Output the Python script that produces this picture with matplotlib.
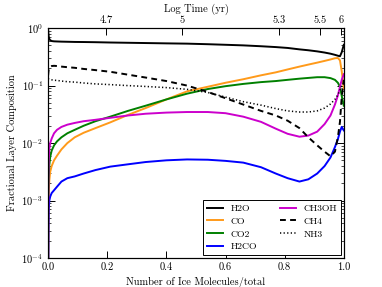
import matplotlib
matplotlib.use("Agg")
import matplotlib.pyplot as plt

plt.rcParams['font.family'] = 'cmr10'
plt.rcParams['mathtext.fontset'] = 'cm'
plt.rcParams['axes.formatter.use_mathtext'] = True
plt.rcParams['axes.unicode_minus'] = False

# fraction of ice molecules (x) and layer composition of each species
frac = [0, 0.001, 0.002, 0.004, 0.007, 0.012, 0.02, 0.03, 0.045, 0.065, 0.09,
        0.12, 0.16, 0.21, 0.27, 0.33, 0.4, 0.47, 0.54, 0.6, 0.66, 0.72, 0.77,
        0.81, 0.85, 0.88, 0.91, 0.935, 0.955, 0.97, 0.98, 0.987, 0.993, 1.0]

h2o = [0.955, 0.794, 0.708, 0.646, 0.617, 0.596, 0.589, 0.586, 0.582, 0.579,
       0.575, 0.573, 0.569, 0.562, 0.556, 0.550, 0.543, 0.537, 0.525, 0.513,
       0.501, 0.484, 0.468, 0.452, 0.427, 0.412, 0.394, 0.376, 0.359, 0.343,
       0.331, 0.324, 0.380, 0.513]
co = [3e-5, 6.31e-4, 1.41e-3, 2.24e-3, 3.16e-3, 3.98e-3, 5.01e-3, 6.03e-3,
      7.76e-3, 1.0e-2, 1.26e-2, 1.51e-2, 1.82e-2, 2.29e-2, 3.09e-2, 4.07e-2,
      5.75e-2, 7.94e-2, 9.55e-2, 0.112, 0.129, 0.151, 0.170, 0.191, 0.214,
      0.232, 0.251, 0.269, 0.285, 0.299, 0.302, 0.275, 0.178, 0.0891]
co2 = [3e-5, 1.26e-3, 2.51e-3, 4.17e-3, 5.75e-3, 7.41e-3, 9.12e-3, 1.07e-2,
       1.26e-2, 1.48e-2, 1.70e-2, 2.00e-2, 2.40e-2, 2.88e-2, 3.63e-2, 4.47e-2,
       5.75e-2, 7.24e-2, 8.71e-2, 9.77e-2, 0.107, 0.115, 0.120, 0.126, 0.132,
       0.136, 0.140, 0.140, 0.135, 0.126, 0.112, 0.0955, 0.0661, 0.0447]
h2co = [3e-5, 3.16e-4, 7.08e-4, 1.0e-3, 1.17e-3, 1.35e-3, 1.51e-3, 1.74e-3,
        2.14e-3, 2.45e-3, 2.63e-3, 2.95e-3, 3.39e-3, 3.89e-3, 4.27e-3, 4.68e-3,
        5.01e-3, 5.19e-3, 5.13e-3, 4.90e-3, 4.57e-3, 3.80e-3, 2.95e-3, 2.45e-3,
        2.14e-3, 2.34e-3, 2.95e-3, 3.98e-3, 5.62e-3, 8.51e-3, 1.17e-2, 1.58e-2,
        1.91e-2, 1.66e-2]
ch3oh = [3e-5, 2.51e-3, 5.01e-3, 7.94e-3, 1.0e-2, 1.20e-2, 1.48e-2, 1.70e-2,
         1.91e-2, 2.09e-2, 2.24e-2, 2.40e-2, 2.54e-2, 2.75e-2, 3.02e-2, 3.24e-2,
         3.39e-2, 3.47e-2, 3.47e-2, 3.31e-2, 2.88e-2, 2.34e-2, 1.78e-2, 1.45e-2,
         1.29e-2, 1.35e-2, 1.58e-2, 2.14e-2, 3.02e-2, 4.68e-2, 6.76e-2, 9.55e-2,
         0.126, 0.158]
ch4 = [0.151, 0.174, 0.191, 0.204, 0.214, 0.219, 0.221, 0.219, 0.214, 0.209,
       0.204, 0.195, 0.186, 0.174, 0.155, 0.138, 0.120, 0.100, 0.0776, 0.0603,
       0.0468, 0.0363, 0.0302, 0.0245, 0.0182, 0.0126, 0.00912, 0.00708,
       0.00589, 0.00708, 0.0126, 0.0234, 0.0631, 0.126]
nh3 = [0.132, 0.132, 0.130, 0.129, 0.127, 0.126, 0.124, 0.123, 0.120, 0.117,
       0.115, 0.111, 0.107, 0.104, 0.100, 0.0966, 0.0923, 0.0861, 0.0759,
       0.0631, 0.0525, 0.0457, 0.0398, 0.0363, 0.0347, 0.0347, 0.0363, 0.0407,
       0.0479, 0.0575, 0.0692, 0.0832, 0.100, 0.112]

# top axis: log time labels and where they fall on the ice fraction axis
time_labels = ['4.7', '5', '5.3', '5.5', '6']
time_pos = [0.197, 0.454, 0.78, 0.92, 0.99]

fig = plt.figure(figsize=(3.82, 2.87), dpi=100)
ax = fig.add_axes([0.126, 0.101, 0.774, 0.801])

lw = 1.4
ax.plot(frac, h2o, color='k', lw=lw, label='H2O')
ax.plot(frac, co, color='#ff9a1a', lw=lw, label='CO')
ax.plot(frac, co2, color='#008000', lw=lw, label='CO2')
ax.plot(frac, h2co, color='#0000ff', lw=lw, label='H2CO')
ax.plot(frac, ch3oh, color='#cc00cc', lw=lw, label='CH3OH')
ax.plot(frac, ch4, color='k', lw=lw, ls=(0, (3, 2.2)), label='CH4')
ax.plot(frac, nh3, color='k', lw=lw * 0.8, ls=(0, (0.8, 1.5)), label='NH3')

ax.set_yscale('log')
ax.set_ylim(1e-4, 1)
ax.set_xlim(0, 1)
ax.set_xticks([0, 0.2, 0.4, 0.6, 0.8, 1.0])
ax.set_xticklabels(['0.0', '0.2', '0.4', '0.6', '0.8', '1.0'])
ax.tick_params(which='both', direction='in', top=False, right=True, labelsize=7.5)
ax.tick_params(which='major', length=5, width=0.7)
ax.tick_params(which='minor', length=2.5, width=0.5)
ax.set_xlabel('Number of Ice Molecules/total', fontsize=7.5, labelpad=3)
ax.set_ylabel('Fractional Layer Composition', fontsize=7.5, labelpad=3)

ax2 = ax.twiny()
ax2.set_xlim(0, 1)
ax2.set_xticks(time_pos)
ax2.set_xticklabels(time_labels)
ax2.tick_params(direction='in', length=5, width=0.7, labelsize=7.5, pad=2)
ax2.set_xlabel('Log Time (yr)', fontsize=7.5, labelpad=3)

leg = ax.legend(ncol=2, loc='lower right', fontsize=7, fancybox=False,
                edgecolor='k', framealpha=1, handlelength=1.65,
                handletextpad=0.8, columnspacing=2.3, borderaxespad=0.3,
                labelspacing=0.4)
leg.get_frame().set_linewidth(0.7)

fig.savefig('out.png', dpi=100)
